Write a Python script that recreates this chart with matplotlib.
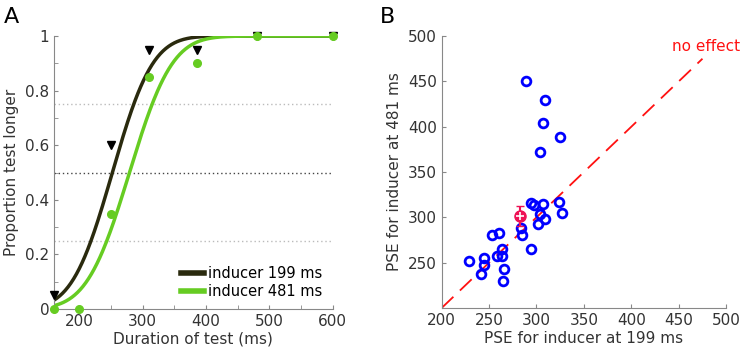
import numpy as np
import matplotlib.pyplot as plt
from math import erf, sqrt

# panel A: psychometric data
durations = [160, 200, 250, 310, 386, 481, 600]
p_short = [0.05, np.nan, 0.6, 0.95, 0.95, 1.0, 1.0]     # inducer 199 ms
p_long = [0.0, 0.0, 0.35, 0.85, 0.9, 1.0, 1.0]          # inducer 481 ms
fit_short = (252, 50)   # PSE, sigma of cumulative gaussian
fit_long = (279, 53)

# panel B: PSEs per participant
pse_199 = [228.5, 244.7, 244.7, 242, 253, 260.6, 263.4, 258.4, 264, 265.8, 264.8,
           283.4, 284.8, 294.3, 302, 303.3, 309, 326.6,
           294, 297.7, 307.2, 323.3,
           289, 308.5, 306.4, 325, 303.2]
pse_481 = [252, 255.5, 247.4, 237, 280, 283, 265.4, 257.3, 257.3, 242.7, 230,
           288, 280.5, 265.4, 292.3, 303.4, 298.5, 305.3,
           315.5, 313.3, 315, 317,
           450, 429, 404, 389, 372]
mean_xy = (282.7, 301.8)
sem_xy = (3, 11)

black = '#2a2a0e'
green = '#66cc22'
txt = '#333333'
spine = '#888888'

plt.rcParams['font.family'] = 'DejaVu Sans'
fig = plt.figure(figsize=(7.41, 3.5), dpi=100)

def cumgauss(x, pse, sd):
    return np.array([0.5 * (1 + erf((v - pse) / (sd * sqrt(2)))) for v in x])

def style(ax):
    for s in ['top', 'right']:
        ax.spines[s].set_visible(False)
    for s in ['left', 'bottom']:
        ax.spines[s].set_color(spine)
    ax.tick_params(which='both', direction='in', colors=spine, labelcolor=txt, labelsize=11)
    ax.tick_params(which='both', length=3)

# ---- A
ax = fig.add_axes([0.073, 0.117, 0.376, 0.78])
style(ax)
xs = np.linspace(160, 600, 300)
for lvl, c in [(0.25, '#bbbbbb'), (0.5, '#444444'), (0.75, '#bbbbbb')]:
    ax.plot([160, 600], [lvl, lvl], ls=(0, (1, 2)), color=c, lw=1)
ax.plot(xs, cumgauss(xs, *fit_short), color=black, lw=2.5, label='inducer 199 ms')
ax.plot(xs, cumgauss(xs, *fit_long), color=green, lw=2.5, label='inducer 481 ms')
ax.plot(durations, p_short, 'v', color='black', ms=5.5, clip_on=False, zorder=4)
ax.plot(durations, p_long, 'o', color=green, ms=5.5, clip_on=False, zorder=5)
ax.set_xlim(160, 600)
ax.set_ylim(0, 1)
ax.set_xticks([200, 300, 400, 500, 600])
ax.set_xticks([250, 350, 450, 550], minor=True)
ax.set_yticks([0, 0.2, 0.4, 0.6, 0.8, 1])
ax.set_yticklabels(['0', '0.2', '0.4', '0.6', '0.8', '1'])
ax.set_yticks([0.1, 0.3, 0.5, 0.7, 0.9], minor=True)
ax.set_xlabel('Duration of test (ms)', color=txt, fontsize=11, labelpad=2)
ax.set_ylabel('Proportion test longer', color=txt, fontsize=11)
leg = ax.legend(loc='lower right', frameon=False, fontsize=10.5, handlelength=1.6,
                handletextpad=0.3, labelspacing=0.2, borderaxespad=0.3)
for h in leg.legend_handles:
    h.set_linewidth(4)
fig.text(0.005, 0.935, 'A', fontsize=16)

# ---- B
bx = fig.add_axes([0.596, 0.12, 0.384, 0.777])
style(bx)
bx.plot([200, 475], [200, 475], color='#ff1111', lw=1.3, ls=(0, (9, 5)))
bx.text(515, 488, 'no effect', color='#ff1111', fontsize=11, ha='right', va='center')
bx.plot(pse_199, pse_481, 'o', mfc='none', mec='#0000ff', mew=2, ms=6.3, ls='none')
bx.errorbar([mean_xy[0]], [mean_xy[1]], xerr=[sem_xy[0]], yerr=[sem_xy[1]], fmt='o',
            color='#ee1155', ms=8, capsize=3, elinewidth=1.5, zorder=5)
bx.plot([mean_xy[0]], [mean_xy[1]], '+', color='white', ms=6, mew=1.2, zorder=6)
bx.set_xlim(200, 500)
bx.set_ylim(200, 500)
bx.set_xticks([200, 250, 300, 350, 400, 450, 500])
bx.set_yticks([250, 300, 350, 400, 450, 500])
bx.set_xlabel('PSE for inducer at 199 ms', color=txt, fontsize=11, labelpad=2)
bx.set_ylabel('PSE for inducer at 481 ms', color=txt, fontsize=11)
fig.text(0.513, 0.935, 'B', fontsize=16)

fig.savefig('out.png', dpi=100)
